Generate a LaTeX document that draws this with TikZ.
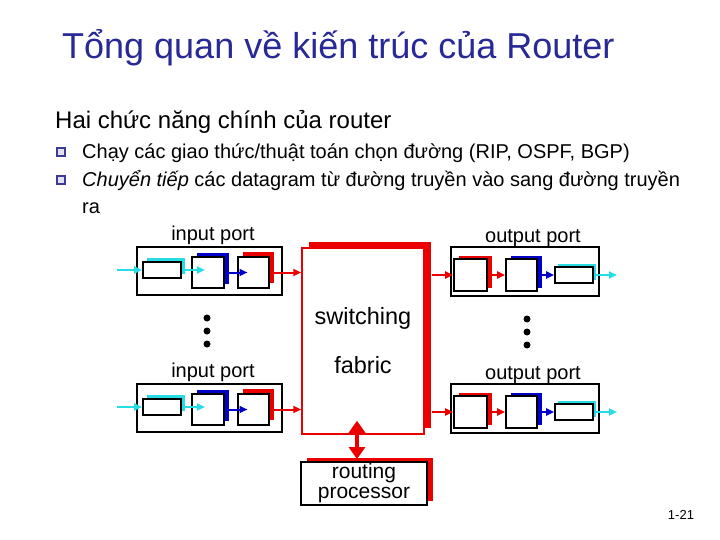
\documentclass[tikz,border=0pt]{standalone}
\usepackage{fontspec}
\setmainfont{Liberation Sans}
\usetikzlibrary{arrows.meta,shadows}
\definecolor{tblue}{RGB}{40,40,150}
\definecolor{myred}{RGB}{235,0,0}
\definecolor{myblue}{RGB}{0,0,200}
\definecolor{mycyan}{RGB}{40,220,230}
\definecolor{bulc}{RGB}{60,60,150}
\definecolor{bulfill}{RGB}{225,225,245}
\begin{document}
\begin{tikzpicture}[x=1pt,y=-1pt,
  pbox/.style={draw=black, fill=white, line width=1.8pt, inner sep=0pt},
  ibox/.style={draw=black, fill=white, line width=1.6pt, inner sep=0pt},
  redsh/.style={drop shadow={shadow xshift=#1, shadow yshift=#1, fill=myred, opacity=1}},
  bluesh/.style={drop shadow={shadow xshift=#1, shadow yshift=#1, fill=myblue, opacity=1}},
  cyansh/.style={drop shadow={shadow xshift=#1, shadow yshift=#1, fill=mycyan, opacity=1}},
  arr/.style={line width=2pt, -{Triangle[length=8pt,width=7pt]}},
  lbl/.style={inner sep=0pt, font=\fontsize{20}{24}\selectfont},
  txt/.style={anchor=base west, inner sep=0pt, font=\fontsize{20}{24}\selectfont},
  bul/.style={draw=bulc, fill=bulfill, line width=1.3pt, minimum size=8pt, inner sep=0pt,
     drop shadow={shadow xshift=1.4pt, shadow yshift=-1.4pt, fill=bulc, opacity=1}}
]
\useasboundingbox (0,0) rectangle (720,540);

% title and text
\node[anchor=base west, inner sep=0pt, text=tblue, font=\fontsize{36}{40}\selectfont] (title) at (62,59) {Tổng quan về kiến trúc của Router};
\node[anchor=base west, inner sep=0pt, font=\fontsize{24}{28}\selectfont] (sub) at (55,129) {Hai chức năng chính của router};
\node[bul] (b1) at (61,152) {};
\node[bul] (b2) at (61,180) {};
\node[txt] (t1) at (82,159) {Chạy các giao thức/thuật toán chọn đường (RIP, OSPF, BGP)};
\node[txt] (t2) at (82,187) {\itshape Chuyển tiếp\upshape{} các datagram từ đường truyền vào sang đường truyền};
\node[txt] (t3) at (82,214) {ra};

% switching fabric
\node[draw=myred, fill=white, line width=1.5pt, minimum width=122pt, minimum height=186pt, inner sep=0pt,
      drop shadow={shadow xshift=7pt, shadow yshift=6pt, fill=myred, opacity=1}] (fab) at (363,341) {};
\node[lbl, font=\fontsize{23.5}{27}\selectfont] (sw) at ([yshift=23pt]fab.center) {switching};
\node[lbl, font=\fontsize{23.5}{27}\selectfont] (fb) at ([yshift=-24pt]fab.center) {fabric};

% routing processor
\node[pbox, minimum width=126pt, minimum height=43pt, align=center, font=\fontsize{21}{20}\selectfont,
      drop shadow={shadow xshift=5.5pt, shadow yshift=4pt, fill=myred, opacity=1}] (rp) at (364,483.5) {routing\\processor};
\draw[myred, line width=4pt, {Triangle[length=12pt,width=16pt]}-{Triangle[length=12pt,width=16pt]}]
  ([xshift=-6pt,yshift=14pt]fab.south) -- ([xshift=-7pt,yshift=2pt]rp.north);

% ports
\foreach \r/\dy in {1/0,2/137} {
  % input port
  \node[lbl] (ipl\r) at (213,235+\dy) {input port};
  \node[pbox, minimum width=145pt, minimum height=48pt] (ip\r) at (209.5,271+\dy) {};
  \node[ibox, minimum width=38pt, minimum height=16pt, cyansh=4pt] (iq\r) at (162,270+\dy) {};
  \node[ibox, minimum width=32pt, minimum height=31pt, bluesh=4.5pt] (ib\r) at (208,272.5+\dy) {};
  \node[ibox, minimum width=31pt, minimum height=31pt, redsh=5pt] (ir\r) at (253.5,272.5+\dy) {};
  \coordinate (iin\r) at (117,270+\dy);
  \draw[arr, mycyan] (iin\r) -- (iq\r.west);
  \draw[arr, mycyan] (iq\r.east) -- ([xshift=-3pt]iq\r.east -| ib\r.center);
  \draw[arr, myblue] (ib\r.east) -- ([xshift=-6pt]ib\r.east -| ir\r.center);
  \draw[arr, myred] (ir\r.east) -- (ir\r.east -| fab.west);
  % output port
  \node[lbl] (opl\r) at (533,238+\dy) {output port};
  \node[pbox, minimum width=148pt, minimum height=49pt] (op\r) at (525,271.5+\dy) {};
  \node[ibox, minimum width=33pt, minimum height=32pt, drop shadow={shadow xshift=5pt, shadow yshift=3pt, fill=myred, opacity=1}] (or\r) at (470.5,275+\dy) {};
  \node[ibox, minimum width=31pt, minimum height=32pt, drop shadow={shadow xshift=4.5pt, shadow yshift=3pt, fill=myblue, opacity=1}] (ob\r) at (521.5,275+\dy) {};
  \node[ibox, minimum width=38pt, minimum height=16pt, cyansh=3pt] (oq\r) at (574,275+\dy) {};
  \coordinate (oout\r) at (617,275+\dy);
  \draw[arr, myred] ([xshift=7pt]fab.east |- or\r.west) -- (or\r.west);
  \draw[arr, myred] (or\r.east) -- (ob\r.west);
  \draw[arr, myblue] (ob\r.east) -- (oq\r.west);
  \draw[arr, mycyan] (oq\r.east) -- (oout\r);
}

% dots
\foreach \yy in {318,331,344} {
  \fill (207,\yy) circle (3.5);
  \fill (527,\yy+1) circle (3.5);
}

% page number
\node[inner sep=0pt, font=\fontsize{13}{15}\selectfont] (pg) at (681,515) {1-21};
\end{tikzpicture}
\end{document}
